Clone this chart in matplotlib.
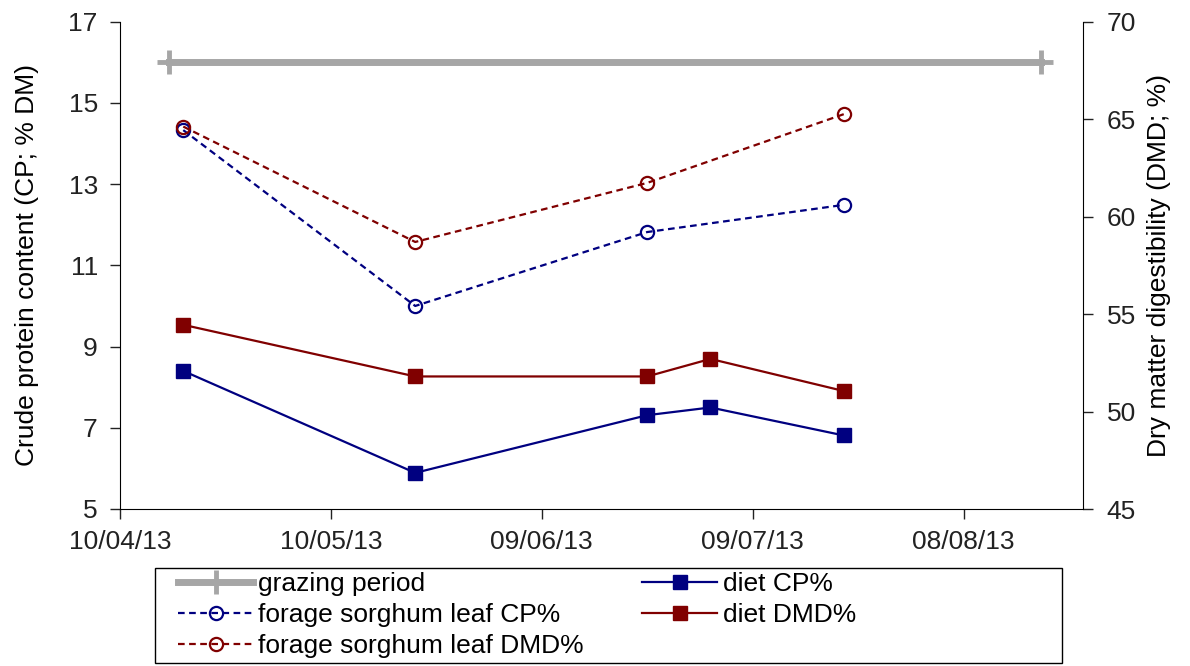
from datetime import datetime
import matplotlib
matplotlib.use("Agg")
import matplotlib.pyplot as plt
import matplotlib.dates as mdates
from matplotlib.patches import Rectangle

plt.rcParams["font.family"] = ["Liberation Sans", "DejaVu Sans"]

# data
grazing_dates = ["17/04/13", "19/08/13"]
grazing_level = [16, 16]

diet_dates = ["19/04/13", "22/05/13", "24/06/13", "03/07/13", "22/07/13"]
diet_cp = [8.40, 5.89, 7.31, 7.50, 6.81]
diet_dmd = [54.45, 51.8, 51.8, 52.7, 51.05]

forage_dates = ["19/04/13", "22/05/13", "24/06/13", "22/07/13"]
forage_cp = [14.33, 10.0, 11.82, 12.49]
forage_dmd = [64.62, 58.7, 61.73, 65.26]

tick_dates = ["10/04/13", "10/05/13", "09/06/13", "09/07/13", "08/08/13"]
x_limits = ["10/04/13", "25/08/13"]
cp_ticks = [5, 7, 9, 11, 13, 15, 17]
dmd_ticks = [45, 50, 55, 60, 65, 70]


def to_dates(values):
    return [datetime.strptime(value, "%d/%m/%y") for value in values]


navy = "#000080"
maroon = "#800000"
grey = "#a6a6a6"
font_size = 19

figure = plt.figure(figsize=(11.9, 6.66), dpi=100)
axis1 = figure.add_axes([120 / 1190, 1 - 509 / 666, 963 / 1190, 487.3 / 666])
axis2 = axis1.twinx()

grazing_line, = axis1.plot(to_dates(grazing_dates), grazing_level, color=grey, linewidth=5,
                           marker="+", markersize=17, markeredgewidth=3.5, label="grazing period")
diet_cp_line, = axis1.plot(to_dates(diet_dates), diet_cp, color=navy, linewidth=1.6,
                           marker="s", markersize=10.5, label="diet CP%")
forage_cp_line, = axis1.plot(to_dates(forage_dates), forage_cp, color=navy, linewidth=1.6,
                             linestyle=(0, (3, 2)), marker="o", markersize=9.5,
                             markerfacecolor="none", markeredgewidth=1.6,
                             label="forage sorghum leaf CP%")
diet_dmd_line, = axis2.plot(to_dates(diet_dates), diet_dmd, color=maroon, linewidth=1.6,
                            marker="s", markersize=10.5, label="diet DMD%")
forage_dmd_line, = axis2.plot(to_dates(forage_dates), forage_dmd, color=maroon, linewidth=1.6,
                              linestyle=(0, (3, 2)), marker="o", markersize=9.5,
                              markerfacecolor="none", markeredgewidth=1.6,
                              label="forage sorghum leaf DMD%")

axis1.set_xlim(to_dates(x_limits))
axis1.set_ylim(cp_ticks[0], cp_ticks[-1])
axis2.set_ylim(dmd_ticks[0], dmd_ticks[-1])
axis1.set_xticks(to_dates(tick_dates))
axis1.xaxis.set_major_formatter(mdates.DateFormatter("%d/%m/%y"))
axis1.set_yticks(cp_ticks)
axis2.set_yticks(dmd_ticks)

for axis in (axis1, axis2):
    axis.spines["top"].set_visible(False)
    axis.tick_params(direction="out", length=7, width=1, labelsize=font_size, colors="#222222")
axis1.spines["right"].set_visible(False)
axis2.spines["left"].set_visible(False)
axis2.spines["bottom"].set_visible(False)
axis1.tick_params(axis="y", pad=9)
axis1.tick_params(axis="x", pad=8)
axis2.tick_params(axis="y", pad=10)

axis1.set_ylabel("Crude protein content (CP; % DM)", fontsize=font_size)
axis2.set_ylabel("Dry matter digestibility (DMD; %)", fontsize=font_size)
axis1.yaxis.set_label_coords(-0.084, 0.5)
axis2.yaxis.set_label_coords(1.066, 0.5)

handles = [grazing_line, forage_cp_line, forage_dmd_line, diet_cp_line, diet_dmd_line]
figure.legend(handles=handles, labels=[h.get_label() for h in handles], ncol=2,
              loc="upper left", bbox_to_anchor=(178 / 1190, 1 - 572 / 666),
              frameon=False, fontsize=font_size, borderpad=0, borderaxespad=0,
              handlelength=2.85, handletextpad=0.2, columnspacing=2.2, labelspacing=0.27)
figure.patches.append(Rectangle((155 / 1190, 1 - 663 / 666), 907 / 1190, 95 / 666,
                                transform=figure.transFigure, fill=False,
                                edgecolor="black", linewidth=1))

figure.savefig("out.png", dpi=100)
plt.close(figure)
